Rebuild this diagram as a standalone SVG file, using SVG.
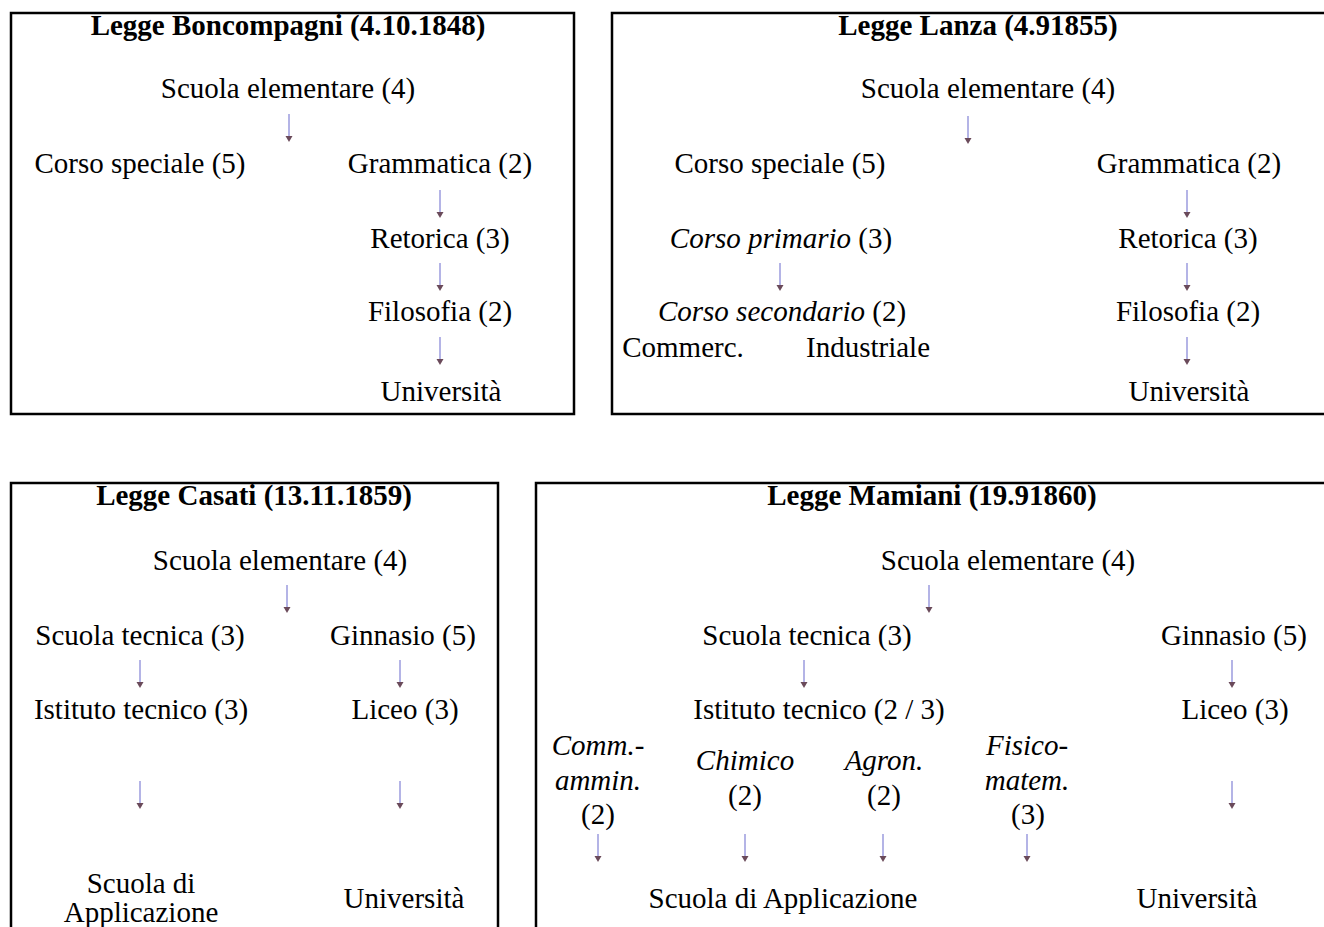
<svg xmlns="http://www.w3.org/2000/svg" width="1324" height="927" viewBox="0 0 1324 927">
<defs>
<style>
text{font-family:"Liberation Serif","Times New Roman",serif;font-size:29px;fill:#000;text-anchor:middle}
.b{font-weight:bold}
.i{font-style:italic}
.box{fill:none;stroke:#000;stroke-width:2.5}
.stem{stroke:#b4b4e6;stroke-width:2}
.head{fill:#6a4a5a}
</style>
<g id="arr">
<line class="stem" x1="0" y1="0" x2="0" y2="24"/>
<path class="head" d="M-3.5 22 L3.5 22 L0 28 Z"/>
</g>
</defs>
<rect width="1324" height="927" fill="#fff"/>

<g id="box-boncompagni">
<path class="box" d="M574 414 L574 13 L11 13 L11 414 Z"/>
<text class="b" x="288" y="35">Legge Boncompagni (4.10.1848)</text>
<text x="288" y="98">Scuola elementare (4)</text>
<text x="140" y="173">Corso speciale (5)</text>
<text x="440" y="173">Grammatica (2)</text>
<text x="440" y="248">Retorica (3)</text>
<text x="440" y="321">Filosofia (2)</text>
<text x="441" y="401">Università</text>
</g>

<g id="box-lanza">
<path class="box" d="M1324 13 L612 13 L612 414 L1324 414"/>
<text class="b" x="978" y="35">Legge Lanza (4.91855)</text>
<text x="988" y="98">Scuola elementare (4)</text>
<text x="780" y="173">Corso speciale (5)</text>
<text x="1189" y="173">Grammatica (2)</text>
<text x="781" y="248"><tspan class="i">Corso primario</tspan> (3)</text>
<text x="1188" y="248">Retorica (3)</text>
<text x="782" y="321"><tspan class="i">Corso secondario</tspan> (2)</text>
<text x="1188" y="321">Filosofia (2)</text>
<text x="683" y="357">Commerc.</text>
<text x="868" y="357">Industriale</text>
<text x="1189" y="401">Università</text>
</g>

<g id="box-casati">
<path class="box" d="M11 927 L11 483 L498 483 L498 927"/>
<text class="b" x="254" y="505">Legge Casati (13.11.1859)</text>
<text x="280" y="570">Scuola elementare (4)</text>
<text x="140" y="645">Scuola tecnica (3)</text>
<text x="403" y="645">Ginnasio (5)</text>
<text x="141" y="719">Istituto tecnico (3)</text>
<text x="405" y="719">Liceo (3)</text>
<text x="141" y="893">Scuola di</text>
<text x="141" y="922">Applicazione</text>
<text x="404" y="908">Università</text>
</g>

<g id="box-mamiani">
<path class="box" d="M536 927 L536 483 L1324 483"/>
<text class="b" x="932" y="505">Legge Mamiani (19.91860)</text>
<text x="1008" y="570">Scuola elementare (4)</text>
<text x="807" y="645">Scuola tecnica (3)</text>
<text x="1234" y="645">Ginnasio (5)</text>
<text x="819" y="719">Istituto tecnico (2 / 3)</text>
<text x="1235" y="719">Liceo (3)</text>
<text class="i" x="598" y="755">Comm.-</text>
<text class="i" x="598" y="790">ammin.</text>
<text x="598" y="824">(2)</text>
<text class="i" x="745" y="770">Chimico</text>
<text x="745" y="805">(2)</text>
<text class="i" x="884" y="770">Agron.</text>
<text x="884" y="805">(2)</text>
<text class="i" x="1027" y="755">Fisico-</text>
<text class="i" x="1027" y="790">matem.</text>
<text x="1028" y="824">(3)</text>
<text x="783" y="908">Scuola di Applicazione</text>
<text x="1197" y="908">Università</text>
</g>

<g id="connectors">
<use href="#arr" x="289" y="114"/>
<use href="#arr" x="440" y="190"/>
<use href="#arr" x="440" y="263"/>
<use href="#arr" x="440" y="337"/>
<use href="#arr" x="968" y="116"/>
<use href="#arr" x="1187" y="190"/>
<use href="#arr" x="1187" y="263"/>
<use href="#arr" x="1187" y="337"/>
<use href="#arr" x="780" y="263"/>
<use href="#arr" x="287" y="585"/>
<use href="#arr" x="140" y="660"/>
<use href="#arr" x="400" y="660"/>
<use href="#arr" x="140" y="781"/>
<use href="#arr" x="400" y="781"/>
<use href="#arr" x="929" y="585"/>
<use href="#arr" x="804" y="660"/>
<use href="#arr" x="1232" y="660"/>
<use href="#arr" x="1232" y="781"/>
<use href="#arr" x="598" y="834"/>
<use href="#arr" x="745" y="834"/>
<use href="#arr" x="883" y="834"/>
<use href="#arr" x="1027" y="834"/>
</g>
</svg>
